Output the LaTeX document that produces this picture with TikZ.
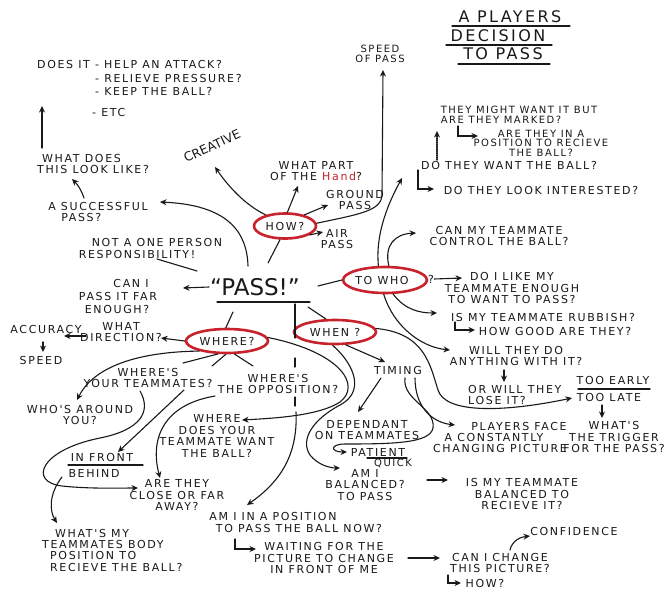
\documentclass[tikz,border=0pt]{standalone}
\usepackage{fontspec}
\usetikzlibrary{arrows.meta,shapes.geometric}
\newfontfamily\hw[LetterSpace=15]{DejaVu Sans}
\newfontfamily\hwplain{DejaVu Sans}
\definecolor{ink}{RGB}{25,25,25}
\definecolor{redink}{RGB}{200,35,45}
\tikzset{
  t/.style={font=\hw\fontsize{11}{11.5}\selectfont, align=center, inner sep=0pt, text=ink},
  ts/.style={font=\hw\fontsize{10}{9.5}\selectfont, align=center, inner sep=0pt, text=ink},
  ttl/.style={font=\hw\fontsize{16}{19}\selectfont, inner sep=0pt, text=ink},
  oval/.style={ellipse, draw=redink, line width=2.6pt, inner sep=0pt, font=\hw\fontsize{11}{11}\selectfont, text=ink, minimum width=82pt, minimum height=24pt},
  con/.style={draw=ink, line width=1.1pt, line cap=round},
  arr/.style={con, -{Stealth[length=6.5pt,width=6pt]}},
}
\begin{document}
\begin{tikzpicture}[x=1pt,y=-1pt]
\useasboundingbox (0,0) rectangle (666,592);
\fill[white] (0,0) rectangle (666,592);

% title
\node[ttl] (ti1) at (510,17) {A PLAYERS};
\node[ttl] (ti2) at (498,36) {DECISION};
\node[ttl] (ti3) at (503,54) {TO PASS};
\draw[con] (452,26) -- (570,26);
\draw[con] (446,45) -- (552,45);
\draw[con] (458,64) -- (550,64);

% top left
\node[t, anchor=west] (d1) at (37,64) {DOES IT - HELP AN ATTACK?};
\node[t, anchor=west] (d2) at (95,78) {- RELIEVE PRESSURE?};
\node[t, anchor=west] (d3) at (95,91) {- KEEP THE BALL?};
\node[t, anchor=west] (d4) at (92,112) {- ETC};
\node[t, anchor=west, align=left] (look) at (37,164) {\hspace*{5pt}WHAT DOES\\THIS LOOK LIKE?};
\draw[arr] (42,148) -- (42,106);

\node[font=\hwplain\fontsize{12.5}{12.5}\selectfont, text=ink, inner sep=0pt, rotate=25] (creative) at (212,146) {CREATIVE};
\node[t, align=left] (succ) at (98,212) {A SUCCESSFUL\\\hspace*{13pt}PASS?};
\draw[arr] (84,198) .. controls (81,189) and (77,184) .. (72,179);

\node[t] (resp1) at (157,242) {NOT A ONE PERSON};
\node[t] (resp2) at (137,254) {RESPONSIBILITY!};
\node[t] (far1) at (131,283) {CAN I};
\node[t] (far2) at (118,296) {PASS IT FAR};
\node[t] (far3) at (117,309) {ENOUGH?};

% centre
\node[font=\hwplain\fontsize{23}{23}\selectfont, text=ink, inner sep=1pt] (pass) at (255,287) {“PASS!”};
\draw[con] (217,302) -- (310,302);
\draw[arr] (248,266) .. controls (247,232) and (228,205) .. (160,202);
\draw[con] (157,259) -- (197,271);
\draw[arr] (pass.west) -- (183,288);

% HOW
\node[oval, minimum width=62pt, minimum height=25pt] (how) at (285,226) {HOW?};
\draw[con] (268,263) -- (how.250);
\draw[arr] (how.150) .. controls (245,205) and (228,186) .. (215,167);
\node[t] (hand) at (316,171) {WHAT PART\\OF THE \textcolor{redink}{Hand}?};
\draw[arr] (how.80) -- (298,186);
\node[t] (ground) at (355,200) {GROUND\\PASS};
\draw[arr] (how.30) -- (328,205);
\node[t] (air) at (337,239) {AIR\\PASS};
\draw[arr] (how.-20) -- (323,232);
\node[ts] (speed) at (380,54) {SPEED\\OF PASS};
\draw[arr] (how.5) .. controls (360,214) and (381,211) .. (382,195) -- (383,70);

% TO WHO
\node[oval, minimum width=82pt, minimum height=26pt] (towho) at (385,280) {TO WHO\hspace*{6pt}};
\node[t] (qm) at (431,279) {?};
\draw[con] (318,286) -- (towho.west);
\draw[arr] (towho.115) .. controls (375,232) and (390,200) .. (402,178);
\node[t] (want) at (509,165) {DO THEY WANT THE BALL?};
\draw[arr] (418,170) -- (418,189) -- (434,189);
\node[t] (interest) at (541,190) {DO THEY LOOK INTERESTED?};
\draw[con, densely dotted, -{Stealth[length=6.5pt,width=6pt]}] (437,160) -- (437,131);
\node[ts] (might1) at (519,110) {THEY MIGHT WANT IT BUT};
\node[ts] (might2) at (501,120) {ARE THEY MARKED?};
\draw[arr] (458,126) -- (458,136) -- (478,136);
\node[ts] (posn) at (541,143) {ARE THEY IN A\\POSITION TO RECIEVE\\THE BALL?};

\draw[arr] (towho.75) .. controls (384,245) and (395,234) .. (416,233);
\node[t] (control) at (499,236) {CAN MY TEAMMATE\\CONTROL THE BALL?};
\draw[arr] (qm.east) -- (462,278);
\node[t] (like) at (512,288) {DO I LIKE MY\\TEAMMATE ENOUGH\\TO WANT TO PASS?};
\draw[arr] (towho.-60) .. controls (405,310) and (420,313) .. (437,313);
\node[t] (rubbish) at (543,317) {IS MY TEAMMATE RUBBISH?};
\draw[arr] (455,322) -- (455,330) -- (475,330);
\node[t] (good) at (555,331) {HOW GOOD ARE THEY?};
\draw[arr] (towho.-95) .. controls (393,325) and (420,347) .. (450,350);
\node[t] (will) at (516,356) {WILL THEY DO\\ANYTHING WITH IT?};
\draw[arr] (504,370) -- (504,382);
\node[t, anchor=west, align=left] (lose) at (468,395) {OR WILL THEY\\LOSE IT?};

\node[t] (early) at (613,380) {TOO EARLY};
\draw[con] (578,389) -- (650,389);
\node[t] (late) at (609,397) {TOO LATE};
\draw[arr] (602,405) -- (602,418);
\node[t] (trigger) at (614,437) {WHAT'S\\THE TRIGGER\\FOR THE PASS?};
\node[t] (face1) at (519,426) {PLAYERS FACE};
\node[t] (face2) at (494,437) {A CONSTANTLY};
\node[t] (face3) at (500,448) {CHANGING PICTURE};

% WHEN
\node[oval, minimum width=82pt, minimum height=24pt] (when) at (335,332) {WHEN ?};
\draw[con] (308,307) -- (when.125);
\draw[con] (295,304) -- (295,338);
\draw[con] (295,358) -- (295,367);
\draw[con] (295,397) -- (295,406);
\draw[arr] (296,412) .. controls (298,455) and (280,482) .. (247,505);
\draw[arr] (when.-50) -- (385,362);
\node[t] (timing) at (398,370) {TIMING};
\draw[arr] (when.5) .. controls (425,333) and (430,365) .. (438,390) .. controls (445,413) and (500,413) .. (572,398);
\draw[arr] (415,378) .. controls (415,405) and (430,422) .. (455,425);
\draw[arr] (381,378) -- (358,412);
\node[t] (dep) at (367,430) {DEPENDANT\\ON TEAMMATES};
\draw[arr] (405,378) .. controls (402,400) and (436,408) .. (433,428) .. controls (430,443) and (395,444) .. (345,444) .. controls (330,444) and (330,452) .. (347,452);
\node[t] (patient) at (378,452) {PATIENT};
\draw[con] (367,458) -- (407,458);
\node[ts] (quick) at (393,463) {QUICK};
\draw[arr] (when.-100) .. controls (355,365) and (365,392) .. (340,405) .. controls (312,420) and (300,440) .. (310,455) .. controls (318,465) and (330,468) .. (340,468);
\node[t] (bal) at (365,485) {AM I\\BALANCED?\\TO PASS};
\draw[arr] (427,480) -- (448,480);
\node[t] (tbal) at (522,494) {IS MY TEAMMATE\\BALANCED TO\\RECIEVE IT?};

\node[t] (pos1) at (273,516) {AM I IN A POSITION};
\node[t] (pos2) at (299,528) {TO PASS THE BALL NOW?};
\draw[arr] (235,539) -- (235,549) -- (256,549);
\node[t] (waiting) at (324,558) {WAITING FOR THE\\PICTURE TO CHANGE\\IN FRONT OF ME};
\draw[arr] (408,558) -- (440,558);
\node[t] (change) at (500,563) {CAN I CHANGE\\THIS PICTURE?};
\draw[arr] (448,575) -- (448,583) -- (461,583);
\node[t] (how2) at (485,583) {HOW?};
\draw[arr] (510,550) .. controls (512,541) and (520,537) .. (530,536);
\node[t] (conf) at (574,531) {CONFIDENCE};

% WHERE
\node[oval, minimum width=82pt, minimum height=24pt] (where) at (227,341) {WHERE?};
\draw[con] (233,312) -- (where.95);
\draw[arr] (where.west) -- (161,338);
\node[t] (dir) at (121,332) {WHAT\\DIRECTION?};
\draw[arr] (86,336) -- (64,336);
\node[t] (acc) at (46,329) {ACCURACY};
\draw[arr] (43,342) -- (43,352);
\node[t] (speed2) at (41,360) {SPEED};
\draw[arr] (where.200) .. controls (130,352) and (92,370) .. (77,400);
\node[t] (around) at (80,415) {WHO'S AROUND\\YOU?};
\draw[con] (where.235) -- (183,363);
\draw[con] (where.265) -- (212,366);
\draw[con] (where.-60) -- (253,366);
\node[t] (mates) at (148,378) {WHERE'S\\YOUR TEAMMATES?};
\node[t] (opp) at (278,384) {WHERE'S\\THE OPPOSITION?};
\draw[arr] (where.5) .. controls (340,352) and (362,385) .. (340,402) .. controls (320,415) and (280,418) .. (242,420);
\node[t] (wdoes) at (217,436) {WHERE\\DOES YOUR\\TEAMMATE WANT\\THE BALL?};
\draw[arr] (184,390) -- (118,452);
\draw[arr] (140,391) .. controls (152,412) and (140,430) .. (100,438) .. controls (40,450) and (28,482) .. (62,486) .. controls (90,489) and (120,488) .. (138,488);
\draw[arr] (215,396) .. controls (162,405) and (150,440) .. (160,478);
\node[t] (front) at (102,457) {IN FRONT};
\draw[con] (68,465) -- (143,465);
\node[t] (behind) at (94,473) {BEHIND};
\draw[arr] (62,477) .. controls (48,495) and (50,512) .. (57,523);
\node[t] (close) at (177,495) {ARE THEY\\CLOSE OR FAR\\AWAY?};
\node[t, anchor=west] (body1) at (55,533) {WHAT'S MY};
\node[t, anchor=west] (body2) at (42,544) {TEAMMATES BODY};
\node[t, anchor=west] (body3) at (50,555) {POSITION TO};
\node[t, anchor=west] (body4) at (50,567) {RECIEVE THE BALL?};
\end{tikzpicture}
\end{document}
